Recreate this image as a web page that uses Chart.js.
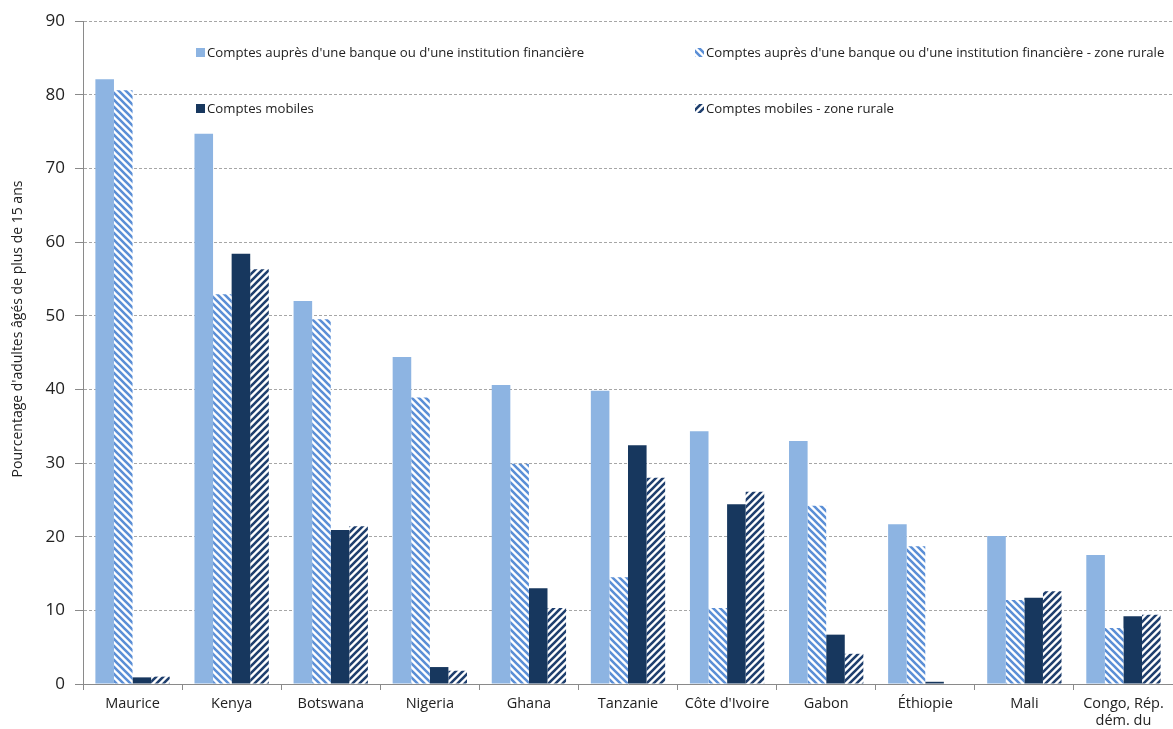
<!DOCTYPE html>
<html>
<head>
<meta charset="utf-8">
<script src="https://cdn.jsdelivr.net/npm/chart.js@4/dist/chart.umd.min.js"></script>
<style>
  html, body { margin: 0; padding: 0; background: #fff; }
  #wrap { width: 1173px; height: 729px; }
</style>
</head>
<body>
<div id="wrap"><canvas id="c" width="1173" height="729"></canvas></div>
<script>
// Countries (x axis)
const categories = ['Maurice', 'Kenya', 'Botswana', 'Nigeria', 'Ghana', 'Tanzanie',
  "Côte d'Ivoire", 'Gabon', 'Éthiopie', 'Mali', ['Congo, Rép.', 'dém. du']];

// Share of adults aged 15+ (%)
const bankAccounts      = [82.1, 74.7, 52.0, 44.4, 40.6, 39.8, 34.3, 33.0, 21.7, 20.1, 17.5];
const bankAccountsRural = [80.6, 52.9, 49.5, 38.9, 29.9, 14.5, 10.3, 24.2, 18.7, 11.4, 7.6];
const mobileAccounts      = [0.9, 58.4, 20.9, 2.3, 13.0, 32.4, 24.4, 6.7, 0.3, 11.7, 9.2];
const mobileAccountsRural = [1.0, 56.3, 21.4, 1.8, 10.3, 28.0, 26.1, 4.1, 0, 12.6, 9.4];

const seriesLabels = [
  "Comptes auprès d'une banque ou d'une institution financière",
  "Comptes auprès d'une banque ou d'une institution financière - zone rurale",
  'Comptes mobiles',
  'Comptes mobiles - zone rurale'
];

const yTitle = "Pourcentage d'adultes âgés de plus de 15 ans";
const yTicks = [0, 10, 20, 30, 40, 50, 60, 70, 80, 90];

const FONT = "'Open Sans', 'Noto Sans', sans-serif";

// Diagonal stripe fill; dir 'back' = "\" , 'fwd' = "/"
function stripes(color, dir) {
  const s = 7;
  const t = document.createElement('canvas');
  t.width = s; t.height = s;
  const g = t.getContext('2d');
  g.fillStyle = '#ffffff';
  g.fillRect(0, 0, s, s);
  g.strokeStyle = color;
  g.lineWidth = 2.6;
  g.beginPath();
  for (let k = -1; k <= 1; k++) {
    if (dir === 'back') {
      g.moveTo(k * s - 1, -1);
      g.lineTo(k * s + s + 1, s + 1);
    } else {
      g.moveTo(k * s - 1, s + 1);
      g.lineTo(k * s + s + 1, -1);
    }
  }
  g.stroke();
  return document.getElementById('c').getContext('2d').createPattern(t, 'repeat');
}

const lightBlue = '#8DB4E2';
const navy = '#17375E';
const fills = [lightBlue, stripes('#5B8FD6', 'back'), navy, stripes('#1F3F6E', 'fwd')];

// Two-column legend placed inside the plot area, plus the rotated y-axis title
const decorations = {
  id: 'decorations',
  afterDraw(chart) {
    const ctx = chart.ctx;
    const spots = [[196, 53], [695, 53], [196, 109], [695, 109]];
    ctx.save();
    ctx.font = '13.2px ' + FONT;
    ctx.textBaseline = 'middle';
    seriesLabels.forEach((lbl, i) => {
      const [x, y] = spots[i];
      ctx.fillStyle = fills[i];
      ctx.fillRect(x, y - 5, 9, 9);
      ctx.fillStyle = '#222';
      ctx.fillText(lbl, x + 11, y);
    });
    ctx.translate(18, 329);
    ctx.rotate(-Math.PI / 2);
    ctx.textAlign = 'center';
    ctx.font = '14px ' + FONT;
    ctx.fillStyle = '#222';
    ctx.fillText(yTitle, 0, 0);
    ctx.restore();
  }
};

new Chart(document.getElementById('c'), {
  type: 'bar',
  data: {
    labels: categories,
    datasets: seriesLabels.map((lbl, i) => ({
      label: lbl,
      data: [bankAccounts, bankAccountsRural, mobileAccounts, mobileAccountsRural][i],
      backgroundColor: fills[i]
    }))
  },
  options: {
    responsive: false,
    animation: false,
    devicePixelRatio: 1,
    categoryPercentage: 0.75,
    barPercentage: 1.0,
    layout: { padding: { top: 21, right: 0, bottom: 0, left: 0 } },
    plugins: {
      legend: { display: false },
      tooltip: { enabled: false }
    },
    scales: {
      x: {
        offset: true,
        grid: {
          offset: true,
          drawOnChartArea: false,
          drawTicks: true,
          tickLength: 6,
          color: '#8a8a8a'
        },
        border: { display: true, color: '#8a8a8a', width: 1 },
        ticks: {
          color: '#222',
          font: { family: FONT, size: 14.5 },
          padding: 5,
          maxRotation: 0,
          autoSkip: false
        },
        afterFit(scale) { scale.height = 45; }
      },
      y: {
        min: 0,
        max: 90,
        afterBuildTicks(scale) { scale.ticks = yTicks.map(v => ({ value: v })); },
        grid: {
          color: '#a6a6a6',
          tickLength: 8,
          tickColor: '#8a8a8a',
          drawTicks: true
        },
        border: { display: true, color: '#8a8a8a', width: 1, dash: [3, 2] },
        ticks: {
          color: '#222',
          font: { family: FONT, size: 17 },
          padding: 10
        },
        afterFit(scale) { scale.width = 83; }
      }
    }
  },
  plugins: [decorations]
});
</script>
</body>
</html>
